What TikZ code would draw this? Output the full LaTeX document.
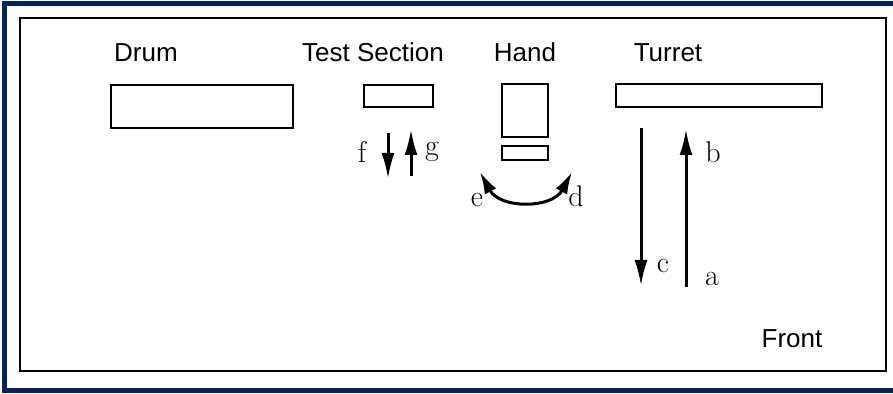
\documentclass[tikz,border=0pt]{standalone}
\usepackage{fontspec}
\setsansfont{Liberation Sans}
\usepackage{xcolor}
\usetikzlibrary{arrows.meta}

\definecolor{framenavy}{RGB}{8,34,96}

\tikzset{
  part/.style={font=\sffamily\fontsize{13}{15}\selectfont, anchor=base},
  letter/.style={font=\fontsize{15}{18}\selectfont, anchor=base},
  box/.style={draw, line width=0.75pt},
  move/.style={line width=1.5pt, -{Latex[length=13pt,width=6.5pt]}},
}

\begin{document}
\begin{tikzpicture}[x=0.5pt,y=-0.5pt]
\useasboundingbox (0,0) rectangle (893,394);
%\draw[step=50,black!20] (0,0) grid (893,394);
\draw[framenavy, line width=2.5pt] (893,4)--(4,4)--(4,390.5)--(893,390.5);
\draw[line width=1pt] (20,18) rectangle (886,371);

% parts
\node[part] (drumlbl) at (146,62) {Drum};
\node[part] (testlbl) at (373,62) {Test Section};
\node[part] (handlbl) at (525,62) {Hand};
\node[part] (turretlbl) at (668,62) {Turret};
\node[part] (frontlbl) at (792,348) {Front};

\draw[box] (111,85) rectangle (293,128);
\draw[box] (364,85) rectangle (433,107);
\draw[box] (502,84) rectangle (548,137);
\draw[box] (502,146) rectangle (548,160);
\draw[box] (616,84) rectangle (822,107);

% motions
\coordinate (f0) at (388,133);
\coordinate (f1) at (388,179);
\coordinate (g0) at (411,176);
\coordinate (g1) at (411,129);
\coordinate (e0) at (480,172);
\coordinate (d0) at (572,172);
\coordinate (c0) at (641,128);
\coordinate (c1) at (641,286);
\coordinate (a0) at (686,287);
\coordinate (b0) at (686,129);

\draw[move] (f0) -- (f1);
\draw[move] (g0) -- (g1);
\draw[move, {Latex[length=11pt,width=6.5pt]}-{Latex[length=11pt,width=6.5pt]}]
  (e0) .. controls (500,209) and (552,209) .. (d0);
\draw[move] (c0) -- (c1);
\draw[move] (a0) -- (b0);

\node[letter] (flbl) at (362,163) {f};
\node[letter] (glbl) at (432,156) {g};
\node[letter] (elbl) at (477,207) {e};
\node[letter] (dlbl) at (576,207) {d};
\node[letter] (clbl) at (663,273) {c};
\node[letter] (blbl) at (713,163) {b};
\node[letter] (albl) at (712,286) {a};
\end{tikzpicture}
\end{document}
